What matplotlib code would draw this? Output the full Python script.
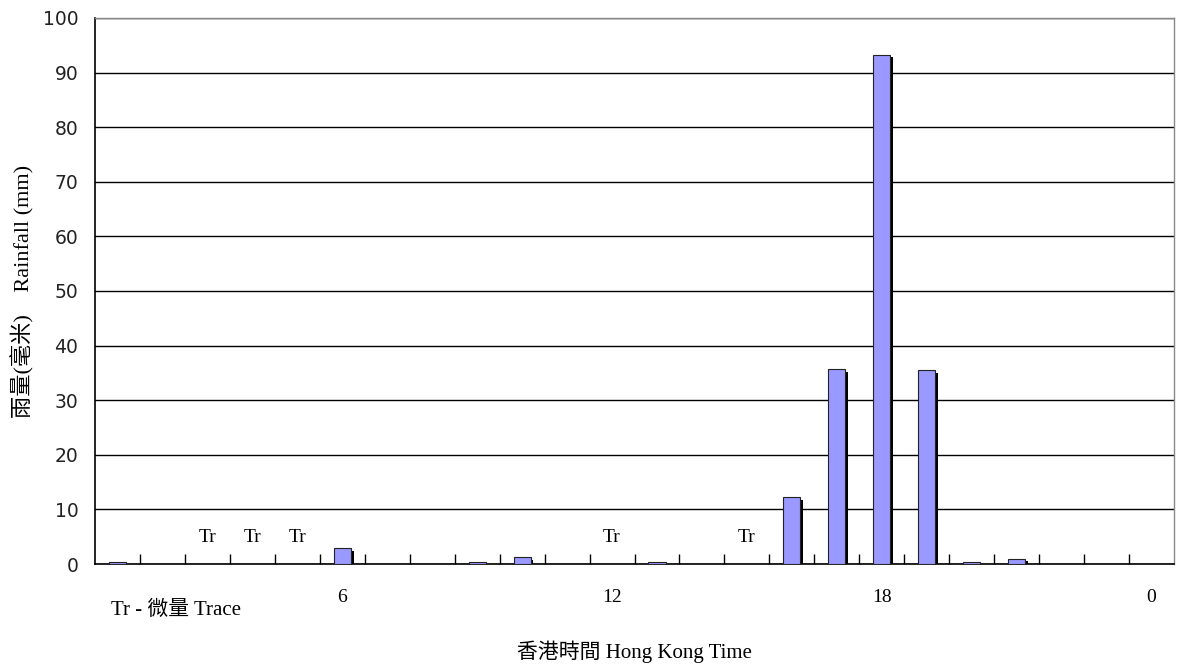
import matplotlib
matplotlib.use("Agg")
from matplotlib import pyplot as plt
import matplotlib.patheffects as pe
import numpy as np

# hourly rainfall, hour ending 1..24
hours = np.arange(1, 25)
rainfall = [0.3, 0, 0, 0, 0, 2.9, 0, 0, 0.3, 1.2, 0, 0,
            0.3, 0, 0, 12.3, 35.7, 93.3, 35.5, 0.3, 1.0, 0, 0, 0]
trace_hours = [3, 4, 5, 12, 15]

label_hours = [6, 12, 18, 24]
label_text = ["6", "12", "18", "0"]

serif_cjk = ["Liberation Serif", "Noto Sans CJK TC"]

fig = plt.figure(figsize=(11.79, 6.64), dpi=100)
ax = fig.add_axes([0.0806, 0.1506, 0.9152, 0.8223])

x = hours - 0.5
bars = ax.bar(x, rainfall, width=0.38, color="#9999ff", edgecolor="#222222",
              linewidth=0.8, zorder=3)
for b in bars:
    b.set_path_effects([pe.SimplePatchShadow(offset=(2, -2), shadow_rgbFace="black", alpha=1.0),
                        pe.Normal()])

# trace amounts
for h in trace_hours:
    ax.text(h - 0.5, 4.8, "Tr", ha="center", va="center", fontsize=14,
            family=serif_cjk, zorder=4)

ax.set_xlim(0, 24)
ax.set_ylim(0, 100)
ax.set_yticks(np.arange(0, 101, 10))
ax.yaxis.grid(True, color="black", linewidth=1.0, zorder=0)
ax.set_axisbelow(True)
ax.tick_params(axis="y", length=0, pad=12, labelsize=13.5, labelcolor="#222222")

# tick marks at hour boundaries, labels at the centre of every 6th hour
ax.set_xticks(np.arange(1, 24))
ax.set_xticklabels([])
ax.tick_params(axis="x", which="major", direction="in", length=7, width=1, color="black")
ax.set_xticks(np.array(label_hours) - 0.5, minor=True)
ax.set_xticklabels(label_text, minor=True, family=serif_cjk, fontsize=14)
ax.tick_params(axis="x", which="minor", length=0, pad=18)

for side in ["left", "bottom"]:
    ax.spines[side].set_color("black")
    ax.spines[side].set_linewidth(1.2)
for side in ["top", "right"]:
    ax.spines[side].set_color("#888888")
    ax.spines[side].set_linewidth(1.0)

ax.set_ylabel("雨量(毫米)    Rainfall (mm)", family=serif_cjk, fontsize=16)
ax.yaxis.set_label_coords(-0.056, 0.5)
ax.set_xlabel("香港時間 Hong Kong Time", family=serif_cjk, fontsize=15, labelpad=25)

fig.text(0.094, 0.081, "Tr - 微量 Trace", family=serif_cjk, fontsize=15, va="center")

fig.savefig("out.png", dpi=100)
